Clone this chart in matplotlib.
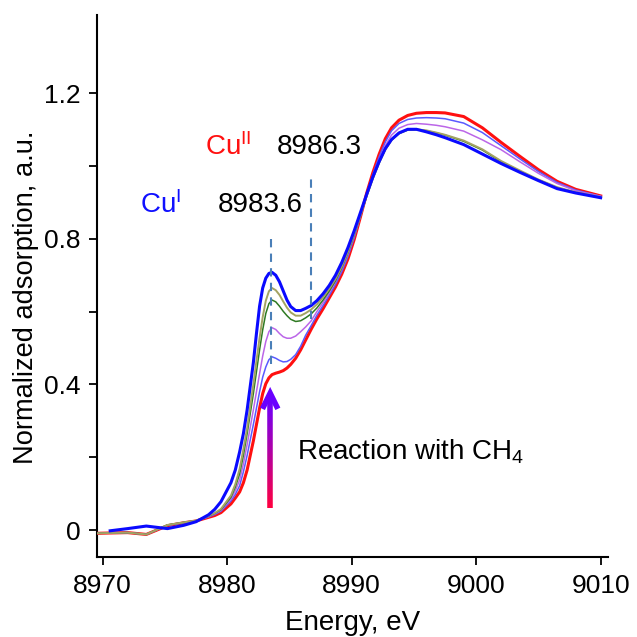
import numpy as np
import matplotlib.pyplot as plt
from matplotlib.collections import LineCollection
from matplotlib.colors import LinearSegmentedColormap

plt.rcParams.update({
    "font.family": ["Liberation Sans", "DejaVu Sans"],
    "mathtext.fontset": "custom",
    "mathtext.rm": "Liberation Sans",
    "mathtext.it": "Liberation Sans",
    "font.size": 19,
    "axes.linewidth": 1.5,
})

# energy grid (eV)
energy = [8969.5, 8970.6, 8972.0, 8973.5, 8975.2, 8976.5, 8977.5, 8978.5,
          8979.0, 8979.5, 8980.3, 8980.65, 8981.0, 8981.3, 8981.6, 8982.1,
          8982.35, 8982.6, 8982.85, 8983.1, 8983.35, 8983.6, 8983.9, 8984.2,
          8984.5, 8984.8, 8985.1, 8985.5, 8985.9, 8986.3, 8986.75, 8987.2,
          8987.7, 8988.2, 8988.7, 8989.2, 8989.7, 8990.2, 8990.7, 8991.2,
          8991.7, 8992.2, 8992.7, 8993.2, 8993.8, 8994.5, 8995.2, 8996.0,
          8996.8, 8997.5, 8999.0, 9000.5, 9002.0, 9003.5, 9005.0, 9006.5,
          9008.0, 9010.0]

# Cu(II) start (red)
mu_red = [-0.009, -0.008, -0.007, -0.012, 0.012, 0.020, 0.025, 0.035,
          0.040, 0.048, 0.072, 0.088, 0.105, 0.130, 0.165, 0.245,
          0.290, 0.335, 0.375, 0.402, 0.418, 0.427, 0.431, 0.434,
          0.438, 0.445, 0.455, 0.472, 0.495, 0.522, 0.552, 0.580,
          0.608, 0.638, 0.668, 0.703, 0.745, 0.798, 0.860, 0.925,
          0.982, 1.032, 1.075, 1.105, 1.126, 1.139, 1.145, 1.147,
          1.147, 1.146, 1.136, 1.105, 1.065, 1.027, 0.990, 0.958,
          0.936, 0.918]
mu_lblue = [-0.009, -0.008, -0.007, -0.012, 0.013, 0.020, 0.025, 0.036,
            0.043, 0.052, 0.080, 0.098, 0.122, 0.160, 0.205, 0.290,
            0.335, 0.380, 0.420, 0.448, 0.468, 0.476, 0.472, 0.466,
            0.462, 0.463, 0.469, 0.482, 0.505, 0.535, 0.562, 0.590,
            0.617, 0.645, 0.675, 0.710, 0.752, 0.803, 0.862, 0.922,
            0.977, 1.025, 1.066, 1.097, 1.117, 1.128, 1.132, 1.133,
            1.132, 1.130, 1.118, 1.092, 1.056, 1.020, 0.985, 0.955,
            0.934, 0.917]
mu_violet = [-0.009, -0.008, -0.007, -0.012, 0.013, 0.021, 0.026, 0.037,
             0.045, 0.054, 0.085, 0.108, 0.138, 0.182, 0.235, 0.330,
             0.380, 0.430, 0.478, 0.518, 0.545, 0.556, 0.551, 0.540,
             0.531, 0.527, 0.527, 0.533, 0.545, 0.558, 0.575, 0.600,
             0.625, 0.652, 0.682, 0.717, 0.758, 0.807, 0.862, 0.918,
             0.970, 1.016, 1.056, 1.085, 1.104, 1.114, 1.117, 1.115,
             1.112, 1.108, 1.096, 1.072, 1.045, 1.012, 0.980, 0.952,
             0.932, 0.917]
mu_green = [-0.009, -0.008, -0.007, -0.012, 0.014, 0.021, 0.026, 0.038,
            0.046, 0.056, 0.090, 0.118, 0.155, 0.205, 0.265, 0.375,
            0.435, 0.495, 0.550, 0.595, 0.622, 0.632, 0.627, 0.615,
            0.601, 0.589, 0.579, 0.573, 0.575, 0.583, 0.594, 0.610,
            0.632, 0.657, 0.685, 0.720, 0.762, 0.810, 0.863, 0.916,
            0.965, 1.008, 1.045, 1.071, 1.089, 1.099, 1.100, 1.097,
            1.091, 1.085, 1.068, 1.044, 1.012, 0.986, 0.962, 0.941,
            0.927, 0.914]
mu_olive = [-0.009, -0.008, -0.007, -0.012, 0.014, 0.021, 0.026, 0.039,
            0.047, 0.058, 0.095, 0.126, 0.168, 0.222, 0.280, 0.400,
            0.465, 0.528, 0.585, 0.630, 0.656, 0.665, 0.659, 0.646,
            0.628, 0.611, 0.598, 0.589, 0.589, 0.596, 0.606, 0.620,
            0.640, 0.663, 0.690, 0.724, 0.765, 0.813, 0.865, 0.918,
            0.966, 1.009, 1.045, 1.072, 1.090, 1.100, 1.101, 1.098,
            1.092, 1.086, 1.070, 1.046, 1.014, 0.988, 0.963, 0.942,
            0.928, 0.915]
# Cu(I) end (blue)
mu_blue = [np.nan, -0.002, 0.004, 0.011, 0.004, 0.013, 0.023, 0.042,
           0.057, 0.078, 0.130, 0.165, 0.215, 0.265, 0.330, 0.460,
           0.540, 0.615, 0.665, 0.692, 0.705, 0.708, 0.700, 0.682,
           0.657, 0.632, 0.614, 0.603, 0.603, 0.609, 0.617, 0.630,
           0.649, 0.672, 0.700, 0.735, 0.776, 0.822, 0.872, 0.922,
           0.970, 1.012, 1.048, 1.073, 1.091, 1.101, 1.101, 1.094,
           1.086, 1.078, 1.059, 1.033, 1.007, 0.983, 0.960, 0.938,
           0.926, 0.913]

series = [
    (mu_red, "#ff1010", 2.2),
    (mu_lblue, "#5a5aff", 1.1),
    (mu_violet, "#bb66e8", 1.1),
    (mu_green, "#2f7a22", 1.1),
    (mu_olive, "#a3a363", 1.4),
    (mu_blue, "#0a0aff", 2.2),
]

peak_lines = [8983.55, 8986.7]
peak_labels = ["8983.6", "8986.3"]

fig = plt.figure(figsize=(6.37, 6.37), dpi=100)
ax = fig.add_axes([97 / 637, 1 - 557 / 637, 511 / 637, 542 / 637])

for y, c, lw in series:
    ax.plot(energy, y, color=c, lw=lw, zorder=3, solid_joinstyle="round")

# dashed markers at the pre-edge features
ax.plot([peak_lines[0]] * 2, [0.455, 0.808], ls=(0, (4, 3)), color="#4a7fb8", lw=1.5, zorder=4)
ax.plot([peak_lines[1]] * 2, [0.580, 0.970], ls=(0, (4, 3)), color="#4a7fb8", lw=1.5, zorder=4)

ax.text(8979.25, 0.893, peak_labels[0], ha="left", va="center", fontsize=20)
ax.text(8984.0, 1.053, peak_labels[1], ha="left", va="center", fontsize=20)
ax.text(8973.0, 0.893, r"Cu$^{\mathrm{I}}$", color="#1010ff", ha="left", va="center", fontsize=20)
ax.text(8978.2, 1.053, r"Cu$^{\mathrm{II}}$", color="#ff1010", ha="left", va="center", fontsize=20)

# gradient arrow (red -> violet)
cmap = LinearSegmentedColormap.from_list("arr", ["#ff0040", "#6a00ff"])
ax_x = 8983.45
ys = np.linspace(0.061, 0.36, 60)
segs = [[(ax_x, ys[i]), (ax_x, ys[i + 1])] for i in range(len(ys) - 1)]
lc = LineCollection(segs, colors=cmap(np.linspace(0, 1, len(segs))), linewidths=4, zorder=5)
ax.add_collection(lc)
ax.plot([ax_x - 0.62, ax_x, ax_x + 0.62], [0.333, 0.376, 0.333], color="#6a00ff", lw=4,
        solid_joinstyle="miter", solid_capstyle="butt", zorder=5)

ax.text(8985.6, 0.215, r"Reaction with CH$_4$", ha="left", va="center", fontsize=20)

ax.set_xlim(8969.54, 9010.59)
ax.set_ylim(-0.074, 1.415)
ax.set_xticks([8970, 8980, 8990, 9000, 9010])
ax.set_yticks([0, 0.4, 0.8, 1.2])
ax.set_yticklabels(["0", "0.4", "0.8", "1.2"])
ax.set_yticks([0.2, 0.6, 1.0], minor=True)
ax.tick_params(axis="both", direction="out", length=6, width=1.3, labelsize=19, pad=6)
ax.tick_params(axis="y", which="minor", direction="out", length=6, width=1.3)
ax.spines["top"].set_visible(False)
ax.spines["right"].set_visible(False)

ax.set_xlabel("Energy, eV", fontsize=20, labelpad=9)
ax.text(-0.138, 0.48, "Normalized adsorption, a.u.", rotation=90, ha="center", va="center",
        fontsize=19.6, transform=ax.transAxes)

fig.savefig("out.png", dpi=100)
